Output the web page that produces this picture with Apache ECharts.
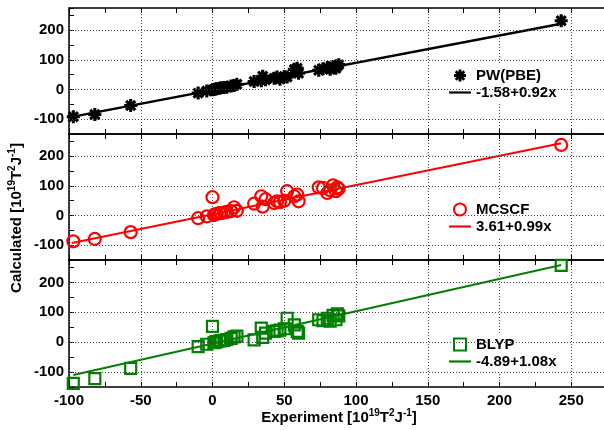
<!DOCTYPE html>
<html><head><meta charset="utf-8">
<script src="https://cdn.jsdelivr.net/npm/echarts/dist/echarts.min.js"></script>
<style>html,body{margin:0;padding:0;background:#fff}#c{width:604px;height:430px}</style>
</head><body><div id="c"></div>
<script>
// experimental values (shared by all three panels)
const expX   = [-97, -82, -57, -10, -4, 0, 1, 2, 3, 5, 6, 8, 10, 13, 15, 17, 29, 34, 35, 37, 43, 45, 47, 50, 52, 57, 59, 60, 74, 77, 80, 82, 84, 86, 87, 88, 243];
const pbeY   = [-92, -84, -54, -12, -5, -1, 0, 2, 3, 4, 6, 7, 8, 12, 14, 18, 27, 30, 45, 33, 38, 42, 35, 44, 42, 68, 72, 55, 65, 70, 74, 68, 78, 72, 80, 84, 232];
const mcscfY = [-87, -79, -56, -9, -3, 62, 2, 4, 6, 8, 9, 10, 12, 15, 28, 16, 40, 65, 30, 55, 42, 48, 45, 50, 82, 65, 71, 48, 95, 93, 76, 85, 102, 82, 95, 90, 238];
const blypY  = [-138, -122, -88, -15, -7, 53, -2, 0, 2, 4, 5, 6, 9, 13, 18, 20, 8, 47, 16, 30, 36, 38, 40, 45, 80, 58, 36, 30, 75, 72, 80, 70, 90, 75, 95, 88, 257];
// fitted lines (end points)
const pbeFitX  = [-98, 243];
const pbeFitY  = [-92, 222];
const mcFitX   = [-98, 243];
const mcFitY   = [-93, 244];
const blFitX   = [-97, 243];
const blFitY   = [-110, 258];
const seriesNames = ['PW(PBE)', 'MCSCF', 'BLYP'];
const fitNames    = ['-1.58+0.92x', '3.61+0.99x', '-4.89+1.08x'];
const xTickLabels = [-100, -50, 0, 50, 100, 150, 200, 250];
const yTickLabels = [-100, 0, 100, 200];

const FONT = '"Liberation Sans", Arial, sans-serif';
const starPath = 'path://M-10,-2.4L10,-2.4L10,2.4L-10,2.4Z M-2.4,-10L2.4,-10L2.4,10L-2.4,10Z M-5.374,-8.768L8.768,5.374L5.374,8.768L-8.768,-5.374Z M-8.768,5.374L5.374,-8.768L8.768,-5.374L-5.374,8.768Z';
const squarePath = 'path://M0,0L10,0L10,10L0,10Z';
const linePath = 'path://M0,0L22,0L22,2.2L0,2.2Z';

const panels = [
  {name: seriesNames[0], fit: fitNames[0], ys: pbeY, fx: pbeFitX, fy: pbeFitY, color: '#000000', symbol: starPath, size: 13,
   icon: starPath, itemStyle: {color: '#000000', opacity: 1}, legendTop: 65, lw: 2.4},
  {name: seriesNames[1], fit: fitNames[1], ys: mcscfY, fx: mcFitX, fy: mcFitY, color: '#ff0000', symbol: 'circle', size: 12,
   icon: 'circle', itemStyle: {color: 'rgba(0,0,0,0)', borderColor: '#ff0000', borderWidth: 2.2, opacity: 1}, legendTop: 199, lw: 2},
  {name: seriesNames[2], fit: fitNames[2], ys: blypY, fx: blFitX, fy: blFitY, color: '#008000', symbol: 'rect', size: 11,
   icon: squarePath, itemStyle: {color: 'rgba(0,0,0,0)', borderColor: '#008000', borderWidth: 2.2, opacity: 1}, legendTop: 334, lw: 2}
];

const gridTops = [8, 134, 260];
const gridHeights = [126, 126, 127];
const grids = gridTops.map((t, i) => ({left: 69, top: t, width: 574, height: gridHeights[i], outerBoundsMode: 'none', containLabel: false}));

const xAxes = [];
for (let i = 0; i < 3; i++) {
  ['bottom', 'top'].forEach(pos => {
    const labeled = (i === 2 && pos === 'bottom');
    xAxes.push({
      type: 'value', gridIndex: i, position: pos, min: -100, max: 300, interval: 50,
      axisLine: {show: true, onZero: false, lineStyle: {color: '#000', width: 1.5}},
      axisTick: {show: true, inside: true, length: 5, lineStyle: {color: '#000', width: 1}},
      minorTick: {show: true, splitNumber: 2, length: 5, lineStyle: {color: '#000', width: 1}},
      splitLine: {show: pos === 'bottom', lineStyle: {type: [1, 2], color: '#444', width: 1}},
      axisLabel: {show: labeled, fontSize: 15, fontWeight: 'bold', color: '#000', fontFamily: FONT, margin: 6,
        formatter: v => xTickLabels.includes(v) ? String(v) : ''}
    });
  });
}

const yAxes = [0, 1, 2].map(i => ({
  type: 'value', gridIndex: i, min: -150, max: 275, interval: 50,
  axisLine: {show: true, onZero: false, lineStyle: {color: '#000', width: 1.5}},
  axisTick: {show: true, inside: true, length: 5, lineStyle: {color: '#000', width: 1}},
  splitLine: {show: false},
  axisLabel: {fontSize: 15, fontWeight: 'bold', color: '#000', fontFamily: FONT, margin: 5,
    formatter: v => yTickLabels.includes(v) ? String(v) : ''}
}));

const series = [];
panels.forEach((p, i) => {
  series.push({
    type: 'scatter', name: p.name, xAxisIndex: 2 * i, yAxisIndex: i,
    data: expX.map((x, k) => [x, p.ys[k]]),
    symbol: p.symbol, symbolSize: p.size, itemStyle: p.itemStyle, z: 2,
    markLine: {silent: true, symbol: 'none', animation: false, label: {show: false},
      lineStyle: {type: [1, 2], color: '#444', width: 1},
      data: yTickLabels.map(v => ({yAxis: v}))}
  });
  series.push({
    type: 'line', name: p.fit, xAxisIndex: 2 * i, yAxisIndex: i,
    data: p.fx.map((x, k) => [x, p.fy[k]]),
    showSymbol: false, symbol: 'none', z: 3,
    lineStyle: {color: p.color, width: p.lw}, itemStyle: {color: p.color}
  });
});

const legends = panels.map(p => ({
  orient: 'vertical', left: 444, top: p.legendTop, padding: [2, 5, 2, 5], backgroundColor: '#fff',
  itemWidth: 22, itemHeight: 12, itemGap: 0, symbolKeepAspect: true,
  textStyle: {fontSize: 15, fontWeight: 'bold', color: '#000', fontFamily: FONT, lineHeight: 17},
  data: [{name: p.name, icon: p.icon}, {name: p.fit, icon: linePath, itemStyle: {color: p.color, borderWidth: 0}}]
}));

const richA = {fontSize: 15, fontWeight: 'bold', fill: '#000', fontFamily: FONT, lineHeight: 19};
const richS = {fontSize: 10, fontWeight: 'bold', fill: '#000', fontFamily: FONT, lineHeight: 10, verticalAlign: 'top'};

const chart = echarts.init(document.getElementById('c'), null, {renderer: 'canvas'});
chart.setOption({
  animation: false,
  backgroundColor: '#fff',
  grid: grids,
  xAxis: xAxes,
  yAxis: yAxes,
  legend: legends,
  series: series,
  graphic: [{
    type: 'text', x: 17, y: 218, rotation: Math.PI / 2,
    style: {
      text: '{a|Calculated [10}{s|19}{a|T}{s|2}{a|J}{s|-1}{a|]}',
      textAlign: 'center', textVerticalAlign: 'middle',
      rich: {a: richA, s: richS}
    }
  }, {
    type: 'text', x: 339, y: 418,
    style: {
      text: '{a|Experiment [10}{s|19}{a|T}{s|2}{a|J}{s|-1}{a|]}',
      textAlign: 'center', textVerticalAlign: 'middle',
      rich: {a: richA, s: richS}
    }
  }]
});
</script>
</body></html>
